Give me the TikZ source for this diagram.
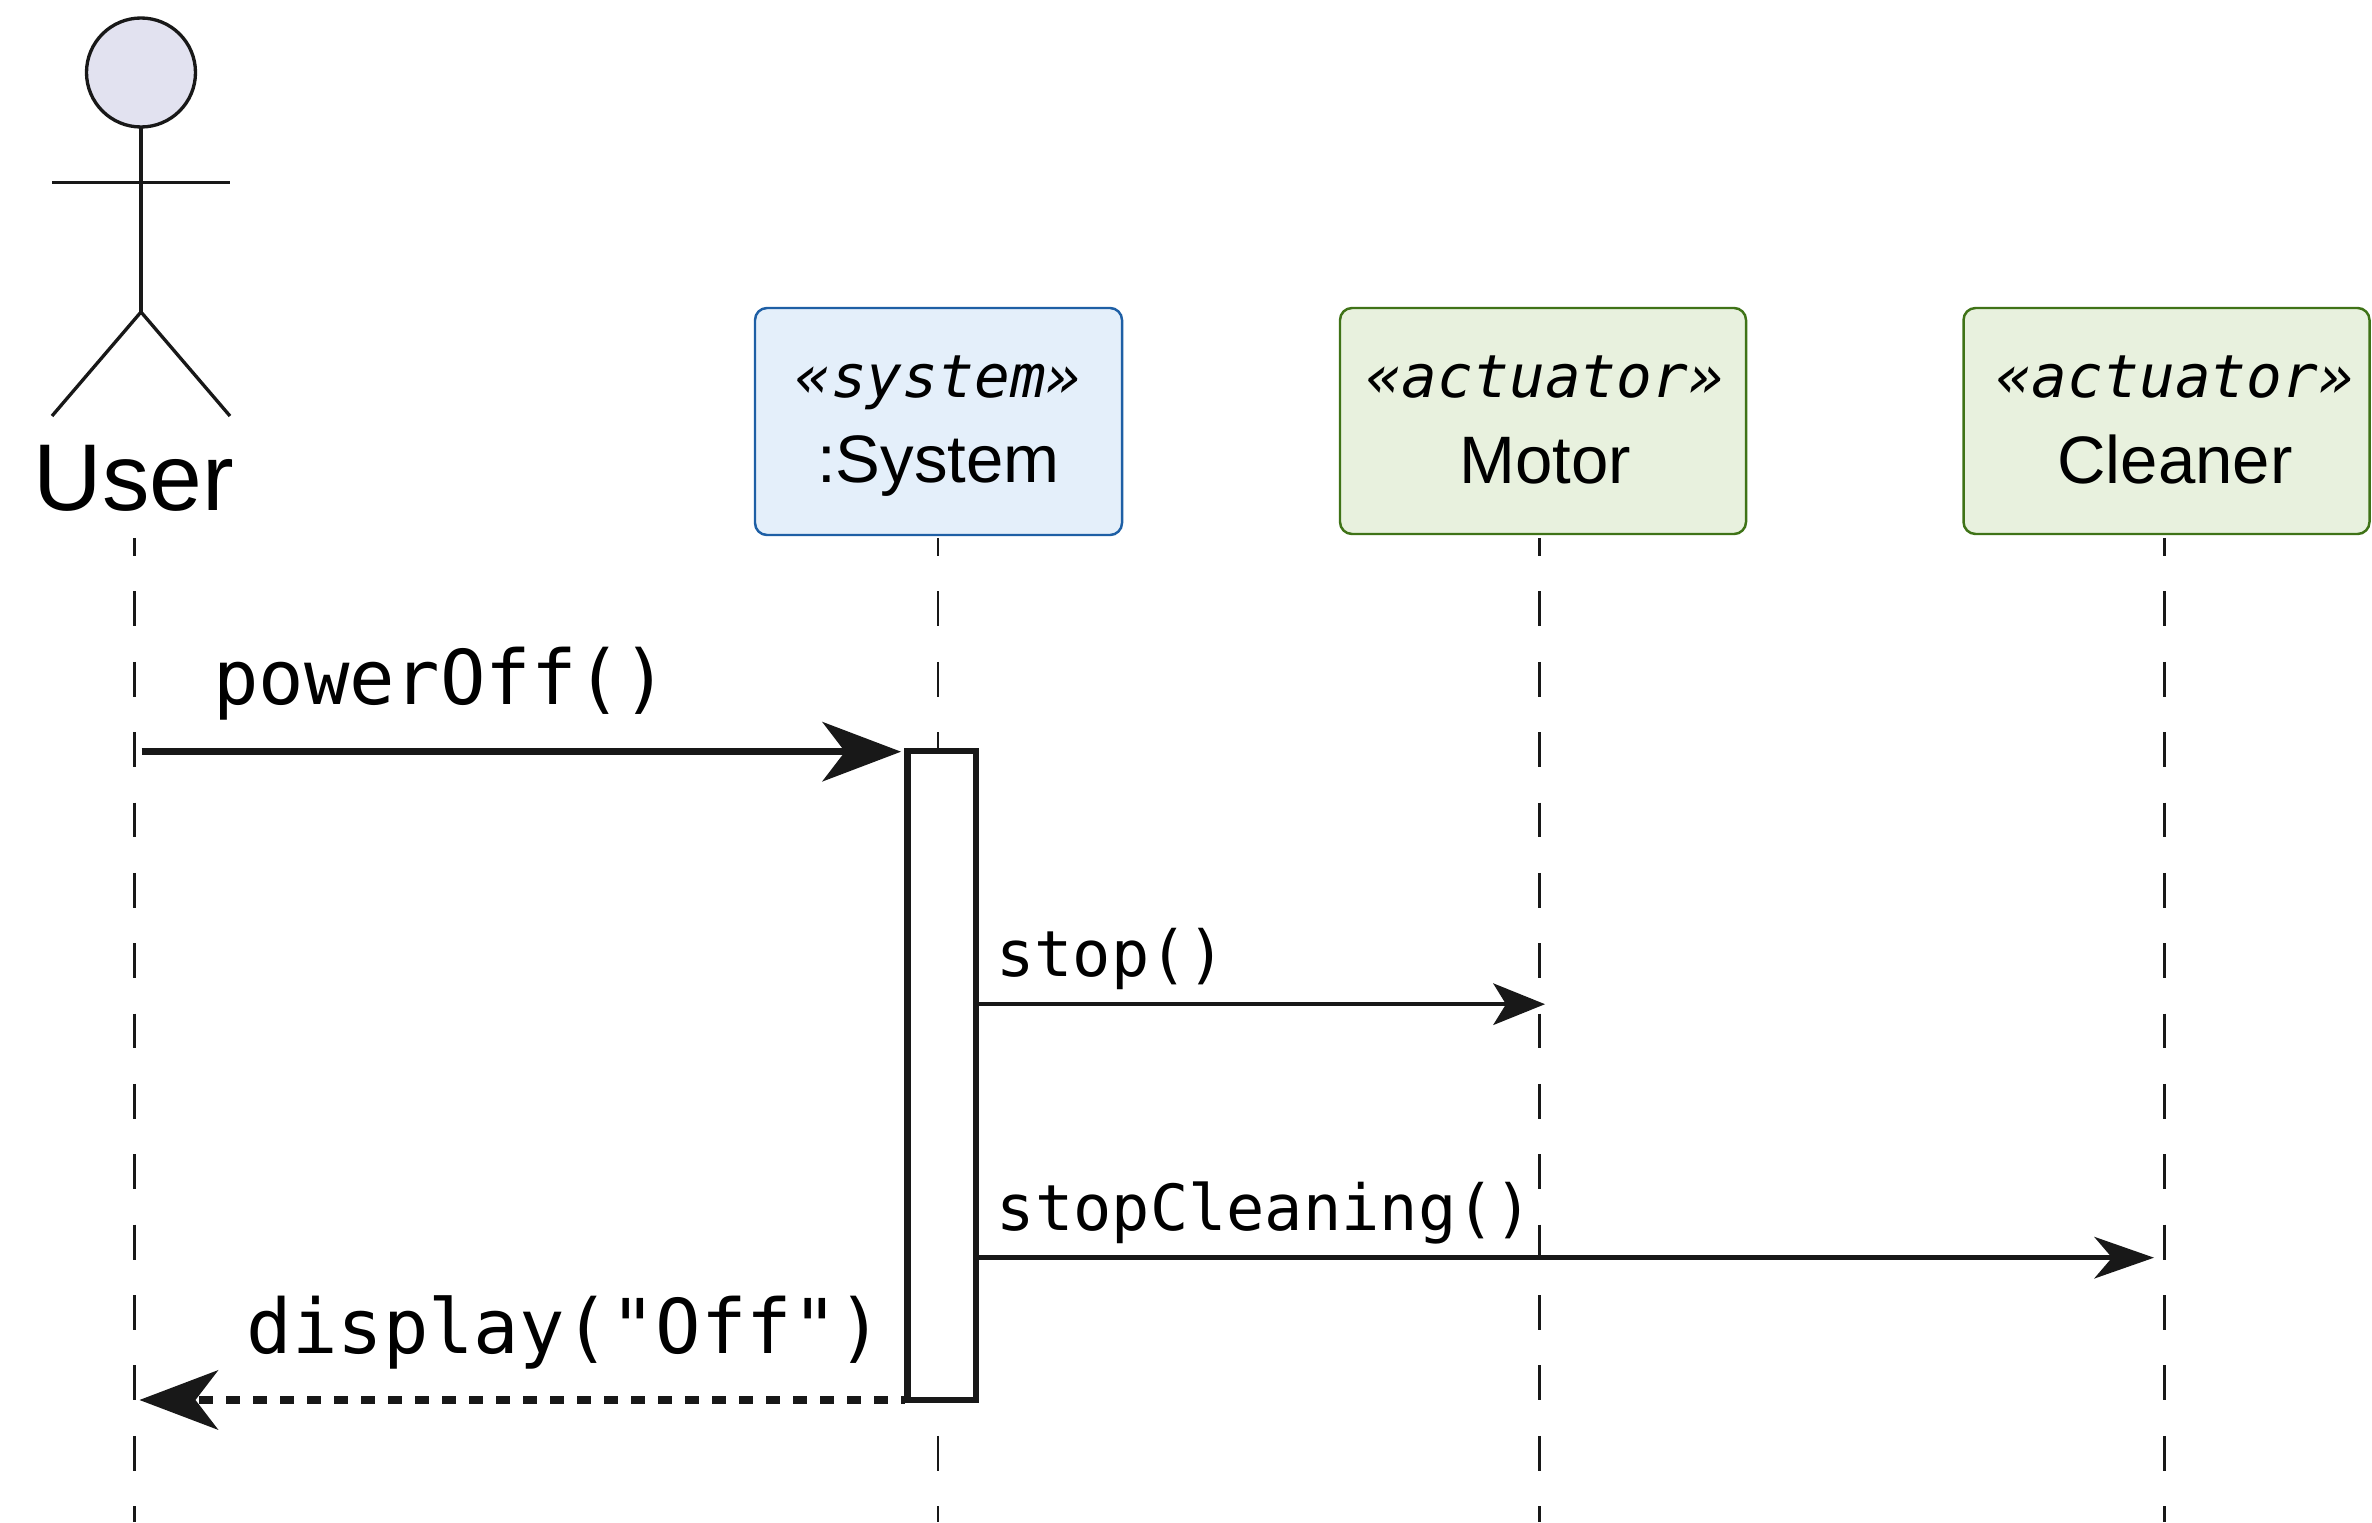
\documentclass[tikz,border=0pt]{standalone}
\usepackage{fontspec}
\setmainfont{Liberation Sans}
\newfontfamily\labelfont{DejaVu Sans Mono}
\usetikzlibrary{arrows.meta}
\definecolor{inkline}{HTML}{181818}

\begin{document}
\begin{tikzpicture}[scale=0.2]
\tikzstyle{every node}+=[inner sep=0pt, outer sep=0pt, text=black]
\tikzstyle{stick}=[draw=inkline, line width=1.9pt]
\tikzstyle{lifeline}=[draw=inkline, line width=1.7pt, dash pattern=on 19.84pt off 20.2pt, dash phase=9.64pt]
\tikzstyle{sysbox}=[draw={rgb,255:red,30;green,95;blue,165}, fill={rgb,255:red,228;green,239;blue,250}, line width=1.4pt, rounded corners=0.24cm, minimum width=7.34cm, minimum height=4.54cm]
\tikzstyle{actbox}=[draw={rgb,255:red,63;green,115;blue,23}, fill={rgb,255:red,232;green,241;blue,222}, line width=1.4pt, rounded corners=0.24cm, minimum width=8.12cm, minimum height=4.52cm]
\tikzstyle{stereo}=[anchor=base, font=\labelfont\itshape\fontsize{33.8}{34}\selectfont]
\tikzstyle{title}=[anchor=base, font=\fontsize{38.2}{38}\selectfont]
\tikzstyle{biglabel}=[anchor=base, font=\labelfont\fontsize{43}{43}\selectfont]
\tikzstyle{smalllabel}=[anchor=base, font=\labelfont\fontsize{36.2}{36}\selectfont]
\tikzstyle{bigcall}=[draw=inkline, line width=4pt, -{Stealth[length=1.58cm, width=1.2cm, inset=0.46cm, line width=0pt, fill=inkline]}]
\tikzstyle{smallcall}=[draw=inkline, line width=2.5pt, -{Stealth[length=1.04cm, width=0.84cm, inset=0.26cm, line width=0pt, fill=inkline]}]
\tikzstyle{longcall}=[draw=inkline, line width=2.5pt, -{Stealth[length=1.2cm, width=0.84cm, inset=0.36cm, line width=0pt, fill=inkline]}]
\useasboundingbox (0,0) rectangle (237.2,-152.2);
\node [circle, stick, fill={rgb,255:red,226;green,226;blue,240}, minimum size=2.18cm] (userhead) at (14.1,-7.25) {};
\coordinate (userhip) at (14.1,-31.2);
\coordinate (userhandl) at (5.2,-18.25);
\coordinate (userhandr) at (23,-18.25);
\coordinate (userfootl) at (5.2,-41.6);
\coordinate (userfootr) at (23,-41.6);
\draw [stick] (userhead.south) -- (userhip);
\draw [stick] (userhandl) -- (userhandr);
\draw [stick] (userfootl) -- (userhip) -- (userfootr);
\node [anchor=base, font=\fontsize{54}{55}\selectfont] (username) at (13.4,-51) {User};
\node [sysbox] (systembox) at (93.85,-42.15) {};
\node [stereo] (systemtype) at (93.85,-39.75) {«system»};
\node [title] (systemname) at (93.85,-48.25) {:System};
\node [actbox] (motorbox) at (154.3,-42.1) {};
\node [stereo] (motortype) at (154.5,-39.75) {«actuator»};
\node [title] (motorname) at (154.5,-48.3) {Motor};
\node [actbox] (cleanerbox) at (216.65,-42.1) {};
\node [stereo] (cleanertype) at (217.5,-39.75) {«actuator»};
\node [title] (cleanername) at (217.5,-48.3) {Cleaner};
\coordinate (usertop) at (13.47,-53.8);
\coordinate (userend) at (13.47,-152.2);
\coordinate (systemtop) at (93.8,-53.8);
\coordinate (systemend) at (93.8,-152.2);
\coordinate (motortop) at (153.95,-53.8);
\coordinate (motorend) at (153.95,-152.2);
\coordinate (cleanertop) at (216.43,-53.8);
\coordinate (cleanerend) at (216.43,-152.2);
\draw [lifeline] (usertop) -- (userend);
\draw [lifeline] (systemtop) -- (systemend);
\draw [lifeline] (motortop) -- (motorend);
\draw [lifeline] (cleanertop) -- (cleanerend);
\node [draw=inkline, fill=white, line width=3.7pt, minimum width=1.37cm, minimum height=12.98cm] (activation) at (94.18,-107.55) {};
\coordinate (poweroffstart) at (14.15,-75.17);
\coordinate (poweroffend) at (90.1,-75.17);
\coordinate (stophit) at (154.5,-100.42);
\coordinate (cleanhit) at (215.4,-125.77);
\coordinate (displaystart) at (90.5,-140);
\coordinate (displayend) at (13.95,-140);
\draw [bigcall] (poweroffstart) -- (poweroffend);
\draw [smallcall] (activation.east |- stophit) -- (stophit);
\draw [longcall] (activation.east |- cleanhit) -- (cleanhit);
\draw [bigcall, dash pattern=on 8pt off 7.36pt, dash phase=5.55pt] (displaystart) -- (displayend);
\node [biglabel] (poweroff) at (44.05,-70.4) {powerOff()};
\node [smalllabel] (stoplabel) at (111.1,-97.6) {stop()};
\node [smalllabel] (cleanlabel) at (126.5,-123) {stopCleaning()};
\node [biglabel] (displaylabel) at (56.5,-135.3) {display("Off")};
\end{tikzpicture}
\end{document}
